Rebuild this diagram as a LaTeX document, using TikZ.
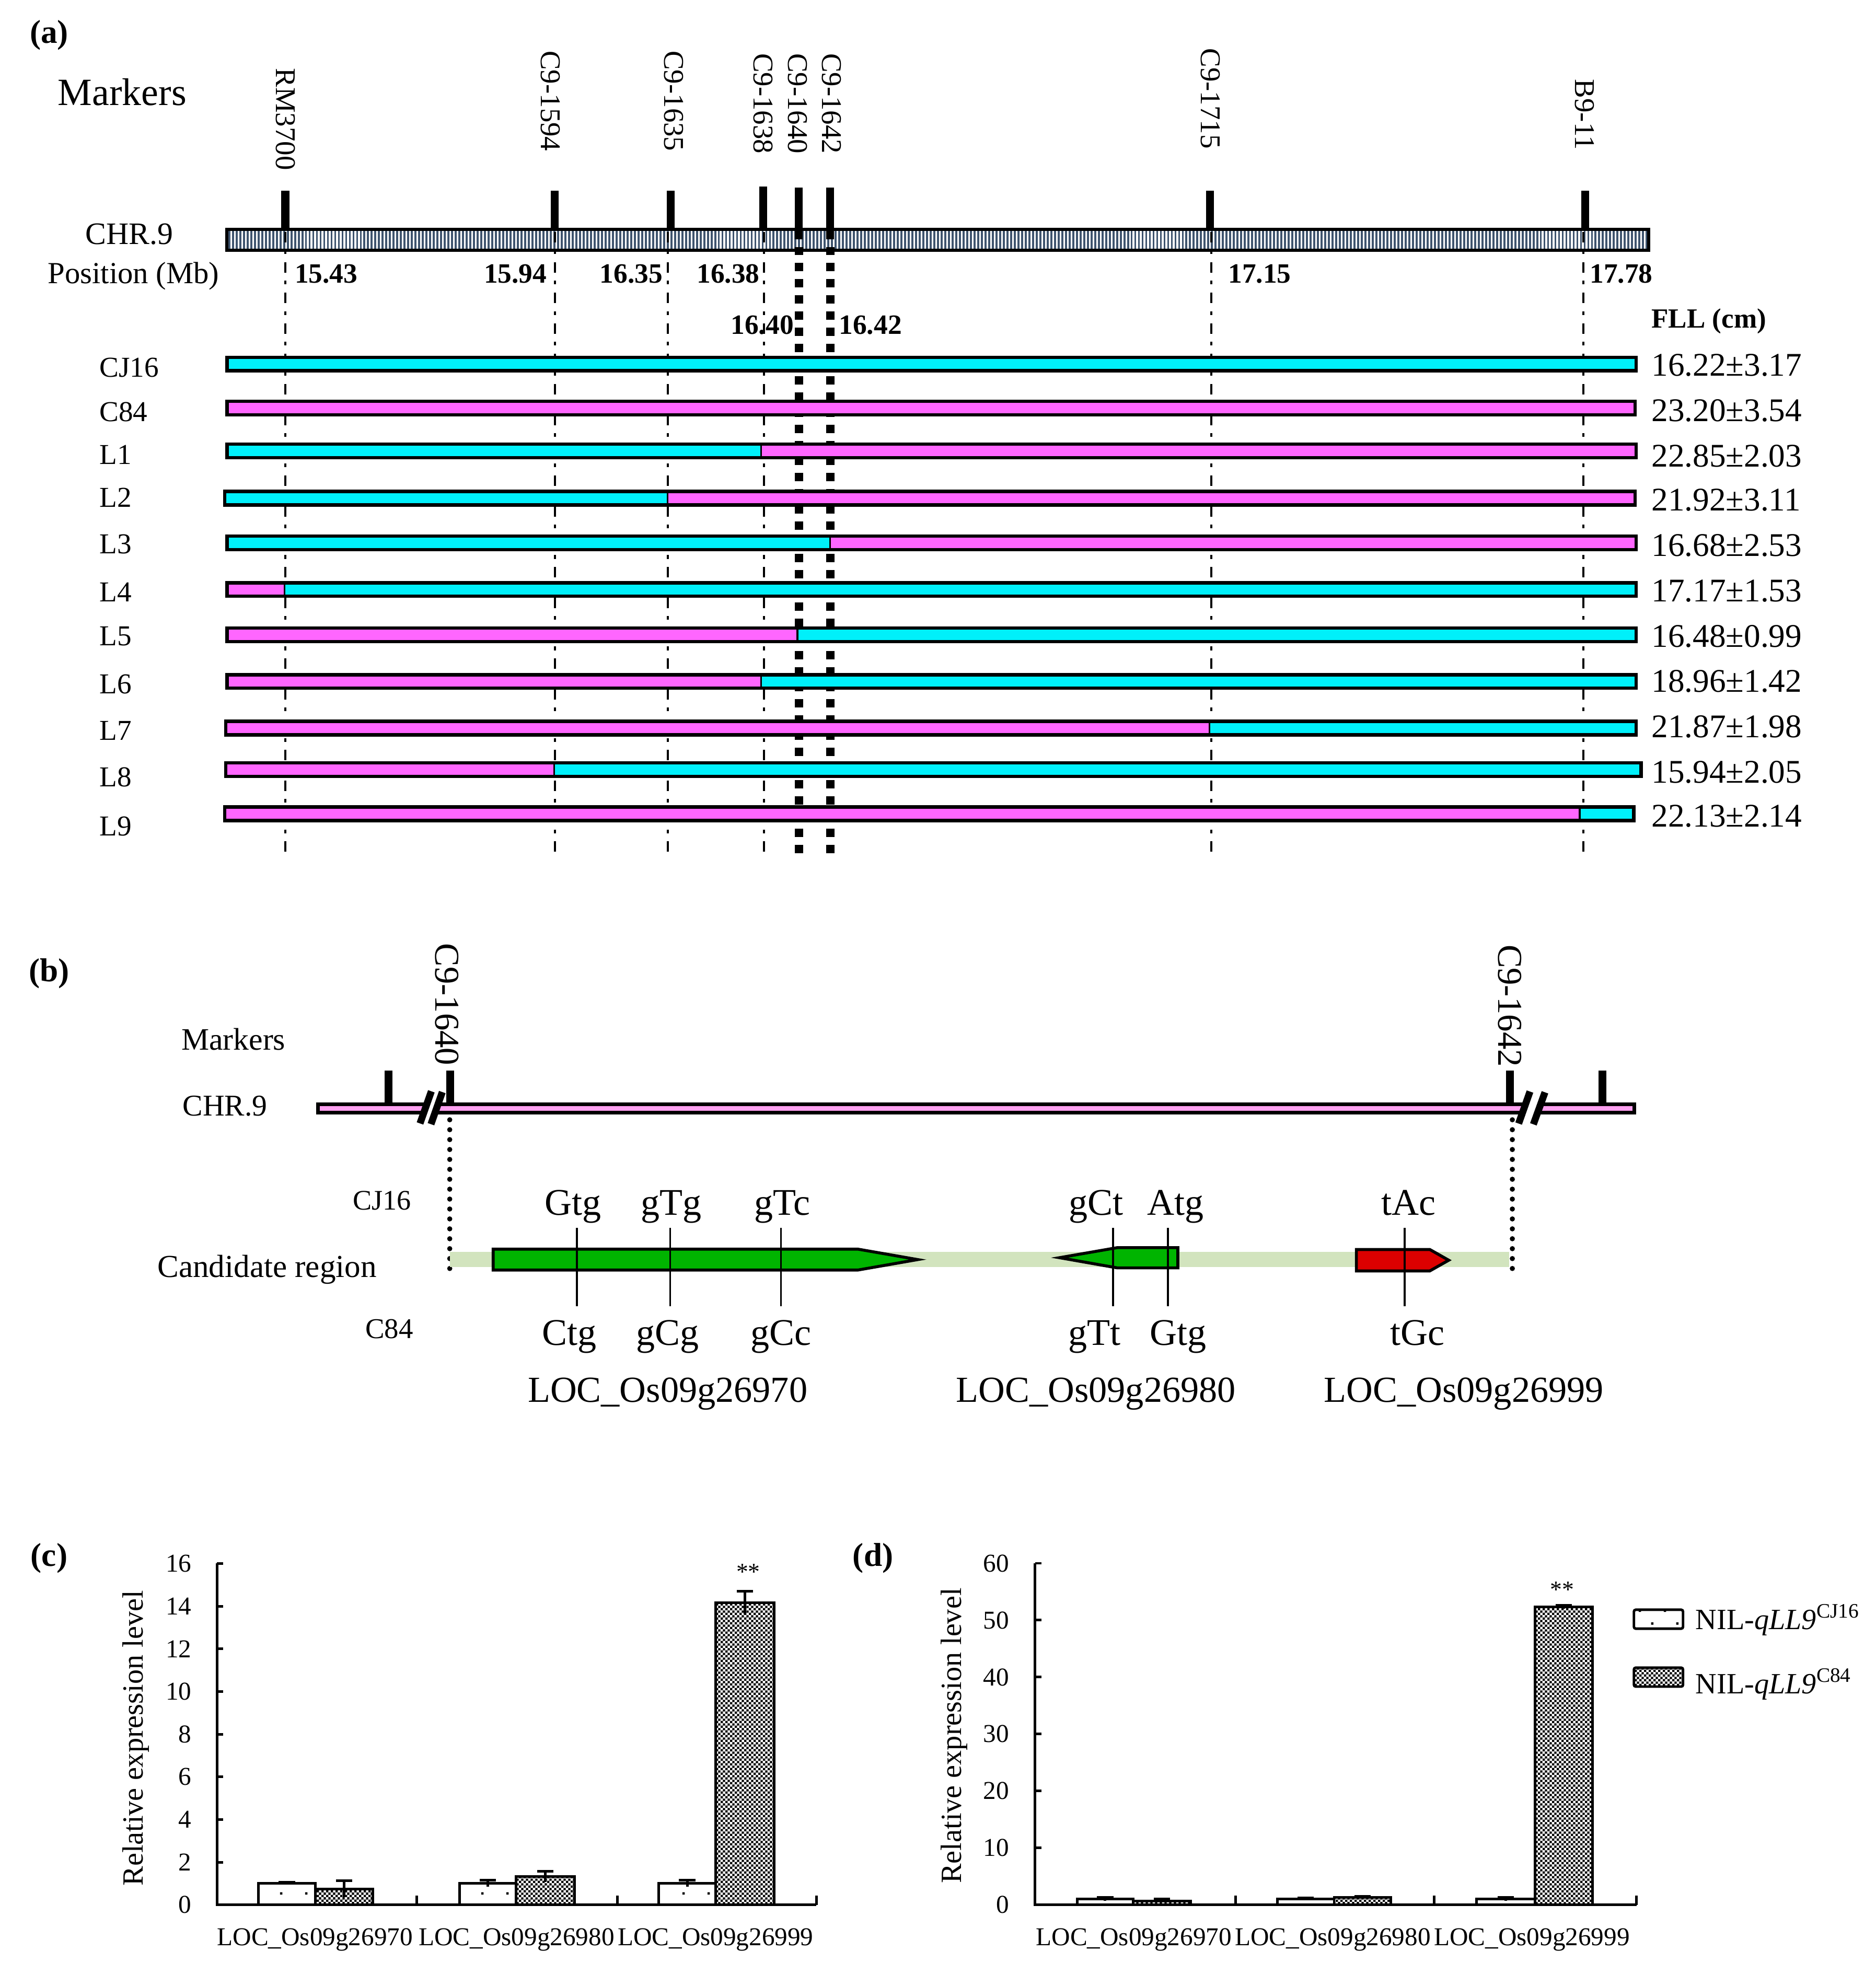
\documentclass[tikz,border=0pt]{standalone}
\usepackage{fontspec}
\setmainfont{Liberation Serif}
\usetikzlibrary{patterns.meta}

\definecolor{cyanA}{RGB}{0,240,250}
\definecolor{magA}{RGB}{255,102,255}
\definecolor{stripeC}{RGB}{63,84,110}
\definecolor{pinkB}{RGB}{255,160,240}
\definecolor{bandC}{RGB}{210,228,190}
\definecolor{geneG}{RGB}{0,180,0}
\definecolor{geneR}{RGB}{220,0,0}

\pgfdeclarepattern{
  name=finecheck,
  type=uncolored,
  bottom left={\pgfpoint{0pt}{0pt}},
  top right={\pgfpoint{2.5pt}{2.5pt}},
  tile size={\pgfpoint{2.5pt}{2.5pt}},
  code={
    \pgfpathrectangle{\pgfpointorigin}{\pgfpoint{1.25pt}{1.25pt}}
    \pgfpathrectangle{\pgfpoint{1.25pt}{1.25pt}}{\pgfpoint{1.25pt}{1.25pt}}
    \pgfusepath{fill}
  }
}
\pgfdeclarepattern{
  name=sparsedots,
  type=uncolored,
  bottom left={\pgfpoint{0pt}{0pt}},
  top right={\pgfpoint{13.7pt}{14pt}},
  tile size={\pgfpoint{13.7pt}{14pt}},
  code={
    \pgfpathrectangle{\pgfpoint{2pt}{2pt}}{\pgfpoint{1.3pt}{1.3pt}}
    \pgfpathrectangle{\pgfpoint{8.85pt}{9pt}}{\pgfpoint{1.3pt}{1.3pt}}
    \pgfusepath{fill}
  }
}

% y-centre, x0, xsplit, x1, left colour, right colour
\newcommand{\rowbar}[6]{%
  \fill[#5] (#2,#1-5.35) rectangle (#3,#1+5.35);
  \fill[#6] (#3,#1-5.35) rectangle (#4,#1+5.35);
  \draw[line width=0.9pt] (#3,#1-5.35) -- (#3,#1+5.35);
  \draw[line width=1.85pt] (#2,#1-5.35) rectangle (#4,#1+5.35);
}
% x0, x1, value, error, style, px per unit
\newcommand{\chbar}[6]{%
  \draw[barline,#5] (#1,1512.3) rectangle (#2,{1512.3-#3*#6});
  \draw[errline] ({(#1+#2)/2},{1512.3-(#3-#4)*#6}) -- ({(#1+#2)/2},{1512.3-(#3+#4)*#6});
  \draw[errline] ({(#1+#2)/2-6.5},{1512.3-(#3+#4)*#6}) -- ({(#1+#2)/2+6.5},{1512.3-(#3+#4)*#6});
}

\tikzset{
  every node/.style={inner sep=0pt, outer sep=0pt},
  fsz/.style={font=\fontsize{#1}{#1}\selectfont},
  bfsz/.style={font=\bfseries\fontsize{#1}{#1}\selectfont},
  mklab/.style={rotate=-90, anchor=east, fsz=15.6},
  tickA/.style={line width=4.3pt},
  dashdot/.style={line width=1.14pt, dash pattern=on 5.7pt off 4.4pt on 2pt off 4.5pt},
  sqdot/.style={line width=4.5pt, dash pattern=on 4.5pt off 4.3pt},
  rounddot/.style={line width=2.8pt, line cap=round, dash pattern=on 0pt off 5.4pt},
  snp/.style={line width=1pt},
  gene/.style={line width=1.6pt, line join=miter},
  axisline/.style={line width=1.4pt},
  barline/.style={line width=1.4pt},
  errline/.style={line width=1.4pt},
  whitebar/.style={fill=white, postaction={pattern=sparsedots, pattern color=black}},
  hatchbar/.style={pattern=finecheck, pattern color=black},
}

\begin{document}
\begin{tikzpicture}[x=0.02411cm,y=-0.02411cm]
\useasboundingbox (0,0) rectangle (1489,1568);

%================ (a) =================
\node[bfsz=18] (pa) at (39,28) {(a)};
\node[fsz=21] (mkA) at (97,73) {Markers};

\node[mklab] (mRM) at (226.5,135) {RM3700};
\node[mklab] (m1594) at (437,120) {C9-1594};
\node[mklab] (m1635) at (535,120) {C9-1635};
\node[mklab] (m1638) at (606,122) {C9-1638};
\node[mklab] (m1640) at (633,122) {C9-1640};
\node[mklab] (m1642) at (660,122) {C9-1642};
\node[mklab] (m1715) at (961,118) {C9-1715};
\node[mklab] (mB911) at (1258,119) {B9-11};

% chromosome
\foreach \i in {0,...,388}
  \draw[stripeC, line width=1.1pt] ({182+2.9*\i},183.5) -- ({182+2.9*\i},197.5);
\draw[line width=1.7pt] (180.2,182.2) rectangle (1308.8,198.8);

% ticks
\foreach \xx/\yt in {226.5/151.5, 440.5/151.5, 532.3/151.5, 606/148, 960.5/151.5, 1258.5/151.5}
  \draw[tickA] (\xx,\yt) -- (\xx,181.5);
\draw[tickA] (634.2,149) -- (634.2,190);
\draw[tickA] (659,149) -- (659,190);

\node[fsz=17, anchor=west] (chrA) at (68,186) {CHR.9};
\node[fsz=16.7, anchor=west] (posA) at (38,219) {Position (Mb)};

% vertical guide lines
\foreach \xx in {226.5, 440.5, 530, 606.3, 961.5, 1257}
  \draw[dashdot] (\xx,184) -- (\xx,682);
\draw[sqdot] (634.2,196) -- (634.2,682);
\draw[sqdot] (659,196) -- (659,682);

% positions
\node[bfsz=15.2, anchor=west] (p1) at (234,217.5) {15.43};
\node[bfsz=15.2, anchor=east] (p2) at (434,217.5) {15.94};
\node[bfsz=15.2, anchor=east] (p3) at (526,217.5) {16.35};
\node[bfsz=15.2, anchor=east] (p4) at (603,217.5) {16.38};
\node[bfsz=15.2, anchor=west] (p5) at (975,217.5) {17.15};
\node[bfsz=15.2, anchor=west] (p6) at (1262,217.5) {17.78};
\node[bfsz=15.2, anchor=east] (p7) at (630,258) {16.40};
\node[bfsz=15.2, anchor=west] (p8) at (666,258) {16.42};
\node[bfsz=15.1, anchor=west] (fll) at (1311,255) {FLL (cm)};

% rows
\rowbar{289}{180.3}{180.3}{1298.7}{cyanA}{cyanA}
\rowbar{324}{180.3}{180.3}{1298}{magA}{magA}
\rowbar{358}{180.3}{604}{1298.7}{cyanA}{magA}
\rowbar{395.5}{178.3}{530}{1298}{cyanA}{magA}
\rowbar{431}{180.3}{659}{1298.7}{cyanA}{magA}
\rowbar{468}{180.3}{226}{1298.7}{magA}{cyanA}
\rowbar{504}{180.3}{633}{1298.7}{magA}{cyanA}
\rowbar{541}{180.3}{604}{1298.7}{magA}{cyanA}
\rowbar{578}{179.3}{960}{1298.7}{magA}{cyanA}
\rowbar{611}{179.3}{440}{1302.7}{magA}{cyanA}
\rowbar{646}{178.3}{1254}{1297}{magA}{cyanA}

\foreach \nm/\yy in {CJ16/292, C84/327, L1/361, L2/395, L3/432, L4/470, L5/505, L6/543, L7/580, L8/617, L9/656}
  \node[fsz=15.7, anchor=west] (r\nm) at (79,\yy) {\nm};

\foreach \vv/\yy [count=\k] in {16.22±3.17/290, 23.20±3.54/326, 22.85±2.03/362, 21.92±3.11/397, 16.68±2.53/433, 17.17±1.53/469, 16.48±0.99/505, 18.96±1.42/541, 21.87±1.98/577, 15.94±2.05/613, 22.13±2.14/648}
  \node[fsz=18, anchor=west] (v\k) at (1311,\yy) {\vv};

%================ (b) =================
\node[bfsz=18] (pb) at (39,773) {(b)};
\node[fsz=17, anchor=west] (mkB) at (144,825) {Markers};
\node[fsz=16.4, anchor=west] (chrB) at (145,878) {CHR.9};
\node[rotate=-90, anchor=west, fsz=19] (b1640) at (355,749) {C9-1640};
\node[rotate=-90, anchor=west, fsz=19] (b1642) at (1198.7,750) {C9-1642};

\draw[line width=2pt, fill=pinkB] (252.5,876.5) rectangle (1297.5,883.5);
\foreach \xx in {308.5, 357.3, 1198.7, 1272}
  \draw[tickA] (\xx,850) -- (\xx,876);

% break marks
\draw[white, line width=6pt] (337.75,892.2) -- (346.75,866.7);
\draw[line width=3.8pt] (333.4,891.9) -- (342.4,866.4);
\draw[line width=3.8pt] (342.1,892.5) -- (351.1,867);
\draw[white, line width=8pt] (1211.3,892.2) -- (1220.3,866.7);
\draw[line width=3.8pt] (1205.5,892) -- (1214.5,866.6);
\draw[line width=3.8pt] (1217.2,892.6) -- (1226.4,867.2);

\draw[rounddot] (357,889) -- (357,1013);
\draw[rounddot] (1200.5,889) -- (1200.5,1012);

\node[fsz=15.4, anchor=west] (cjB) at (280,953) {CJ16};
\node[fsz=17.4, anchor=west] (cand) at (125,1008) {Candidate region};
\node[fsz=15.6, anchor=west] (c84B) at (290,1055) {C84};

\fill[bandC] (357,994) rectangle (1198,1006);

\draw[gene, fill=geneG] (391.5,991.7) -- (681,991.7) -- (728.5,1000) -- (681,1008.3) -- (391.5,1008.3) -- cycle;
\draw[gene, fill=geneG] (935,990.5) -- (887,990.5) -- (841,998.5) -- (887,1006.6) -- (935,1006.6) -- cycle;
\draw[gene, fill=geneR] (1076.7,992) -- (1135,992) -- (1150,1000.5) -- (1135,1009) -- (1076.7,1009) -- cycle;

\foreach \xx in {458, 532, 620, 883.5, 927, 1115}
  \draw[snp] (\xx,975) -- (\xx,1037);

\foreach \tt/\xx [count=\k] in {Gtg/455, gTg/533, gTc/621, gCt/870, Atg/933, tAc/1118}
  \node[fsz=20.5, anchor=base] (s\k) at (\xx,964.5) {\tt};
\foreach \tt/\xx [count=\k] in {Ctg/452, gCg/530, gCc/620, gTt/869, Gtg/935, tGc/1125}
  \node[fsz=20.5, anchor=base] (t\k) at (\xx,1068) {\tt};

\node[fsz=20, anchor=base] (g1) at (530,1113) {LOC\_Os09g26970};
\node[fsz=20, anchor=base] (g2) at (870,1113) {LOC\_Os09g26980};
\node[fsz=20, anchor=base] (g3) at (1162,1113) {LOC\_Os09g26999};

%================ (c) =================
\node[bfsz=18] (pc) at (39,1237) {(c)};
\node[rotate=90, fsz=16] (cyt) at (108,1380) {Relative expression level};
\foreach \v in {0,2,...,16} {
  \node[fsz=14, anchor=east] (cy\v) at (152,{1512.3-\v*16.94}) {\v};
  \draw[axisline] (172.3,{1512.3-\v*16.94}) -- (177.3,{1512.3-\v*16.94});
}
\chbar{205}{250.5}{1.0}{0.05}{whitebar}{16.94}
\chbar{250.5}{296}{0.75}{0.38}{hatchbar}{16.94}
\chbar{364.7}{409.7}{1.0}{0.15}{whitebar}{16.94}
\chbar{409.7}{456}{1.32}{0.25}{hatchbar}{16.94}
\chbar{523}{568}{1.0}{0.15}{whitebar}{16.94}
\chbar{568}{614.7}{14.15}{0.55}{hatchbar}{16.94}
\draw[axisline] (172.3,1241) -- (172.3,1512.3) -- (648,1512.3);
\foreach \xx in {331, 490, 648}
  \draw[axisline] (\xx,1512.3) -- (\xx,1505);
\node[fsz=13] (cst) at (594,1248) {**};
\node[fsz=14] (cx1) at (250,1540) {LOC\_Os09g26970};
\node[fsz=14] (cx2) at (410,1540) {LOC\_Os09g26980};
\node[fsz=14] (cx3) at (568,1540) {LOC\_Os09g26999};

%================ (d) =================
\node[bfsz=18] (pd) at (693,1237) {(d)};
\node[rotate=90, fsz=16] (dyt) at (757.5,1378) {Relative expression level};
\foreach \v in {0,10,...,60} {
  \node[fsz=14, anchor=east] (dy\v) at (801,{1512.3-\v*4.52}) {\v};
  \draw[axisline] (821.7,{1512.3-\v*4.52}) -- (826.7,{1512.3-\v*4.52});
}
\chbar{855}{899.6}{1.0}{0.3}{whitebar}{4.52}
\chbar{899.6}{945}{0.7}{0.3}{hatchbar}{4.52}
\chbar{1014}{1059}{1.0}{0.2}{whitebar}{4.52}
\chbar{1059}{1104}{1.3}{0.2}{hatchbar}{4.52}
\chbar{1172}{1218.6}{1.0}{0.3}{whitebar}{4.52}
\chbar{1218.6}{1264}{52.3}{0.3}{hatchbar}{4.52}
\draw[axisline] (821.7,1241) -- (821.7,1512.3) -- (1299,1512.3);
\foreach \xx in {981, 1138.6, 1299}
  \draw[axisline] (\xx,1512.3) -- (\xx,1505);
\node[fsz=13] (dst) at (1240,1262) {**};
\node[fsz=14] (dx1) at (900,1540) {LOC\_Os09g26970};
\node[fsz=14] (dx2) at (1058,1540) {LOC\_Os09g26980};
\node[fsz=14] (dx3) at (1216,1540) {LOC\_Os09g26999};

% legend
\draw[barline, whitebar, rounded corners=1pt] (1297,1278) rectangle (1336,1293);
\draw[barline, hatchbar, rounded corners=1pt] (1297,1324) rectangle (1336,1339);
\node[fsz=16, anchor=west] (lg1) at (1346,1286) {NIL-\textit{qLL9}\textsuperscript{CJ16}};
\node[fsz=16, anchor=west] (lg2) at (1346,1337) {NIL-\textit{qLL9}\textsuperscript{C84}};
\end{tikzpicture}
\end{document}
